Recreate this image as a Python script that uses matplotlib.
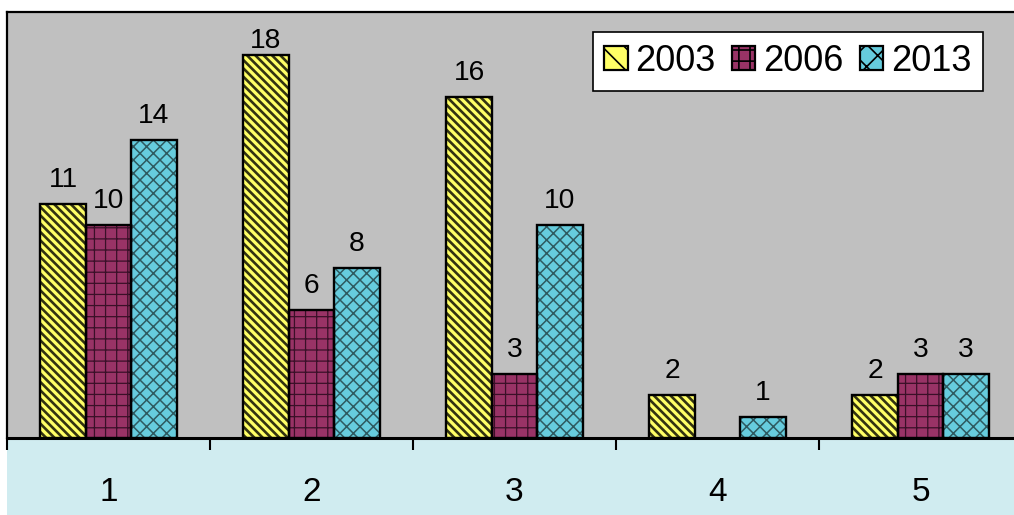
import matplotlib.pyplot as plt
from matplotlib.patches import Patch, Rectangle
import numpy as np

plt.rcParams['font.family'] = ['Liberation Sans', 'DejaVu Sans']

groups = [1, 2, 3, 4, 5]
years = ['2003', '2006', '2013']
v2003 = [11, 18, 16, 2, 2]
v2006 = [10, 6, 3, 0, 3]
v2013 = [14, 8, 10, 1, 3]

faces = ['#FFFF66', '#993366', '#66CCDD']
hatch_cols = ['#333311', '#3A1028', '#2E5A60']
hatches = ['\\' * 8, '+++', 'xxxxx']
hatch_lw = [0.95, 0.45, 0.55]

W, H, DPI = 1014, 515, 200
YMAX = 20
fig = plt.figure(figsize=(W / DPI, H / DPI), dpi=DPI, facecolor='white')

# light blue band under the plot area
fig.patches.append(Rectangle((7 / W, 0), 1, 77 / H, transform=fig.transFigure,
                             facecolor='#D0ECF0', edgecolor='none', zorder=-1))

ax = fig.add_axes([7 / W, 77 / H, 1015 / W, (438 - 12) / H])
ax.set_facecolor('#C0C0C0')
ax.set_xlim(0.5, 5.5)
ax.set_ylim(0, YMAX)

px_per_unit = (438 - 12) / YMAX
x = np.arange(len(groups)) + 1
bw = 0.224
series = [v2003, v2006, v2013]
for i, vals in enumerate(series):
    plt.rcParams['hatch.linewidth'] = hatch_lw[i]
    pos = x + (i - 1) * bw
    for p, v in zip(pos, vals):
        if not v:
            continue
        ax.bar(p, v, bw, color=faces[i], edgecolor=hatch_cols[i],
               hatch=hatches[i], linewidth=0, zorder=2)
        ax.bar(p, v, bw, fill=False, edgecolor='black', linewidth=0.85, zorder=3)
        # keep labels of tall bars inside the frame
        gap_px = min(17, (YMAX - v) * px_per_unit - 36)
        ax.annotate(str(v), (p, v), xytext=(0, gap_px * 72 / DPI),
                    textcoords='offset points', ha='center', va='baseline',
                    fontsize=10.2)

ax.set_yticks([])
ax.set_xticks(x)
ax.set_xticklabels([str(g) for g in groups], fontsize=12)
ax.set_xticks(np.arange(0.5, 5.6, 1), minor=True)
ax.tick_params(axis='x', which='major', length=0, pad=14)
ax.tick_params(axis='x', which='minor', length=4.3, width=0.75, direction='out')

for s in ['left', 'top']:
    ax.spines[s].set_linewidth(0.8)
ax.spines['bottom'].set_linewidth(1.1)
ax.spines['right'].set_visible(False)

plt.rcParams['hatch.linewidth'] = 0.6
handles = [Patch(facecolor=faces[i], edgecolor='black', hatch=hatches[i][:3],
                 linewidth=0.8) for i in range(3)]
leg = fig.legend(handles, years, loc='upper right',
                 bbox_to_anchor=(983 / W, 1 - 32 / H), ncol=3, fontsize=13,
                 frameon=True, fancybox=False, framealpha=1, edgecolor='black',
                 handlelength=0.64, handleheight=0.64, handletextpad=0.22,
                 columnspacing=0.45, borderpad=0.33, borderaxespad=0)
leg.get_frame().set_linewidth(0.6)

fig.savefig('out.png', dpi=DPI)
